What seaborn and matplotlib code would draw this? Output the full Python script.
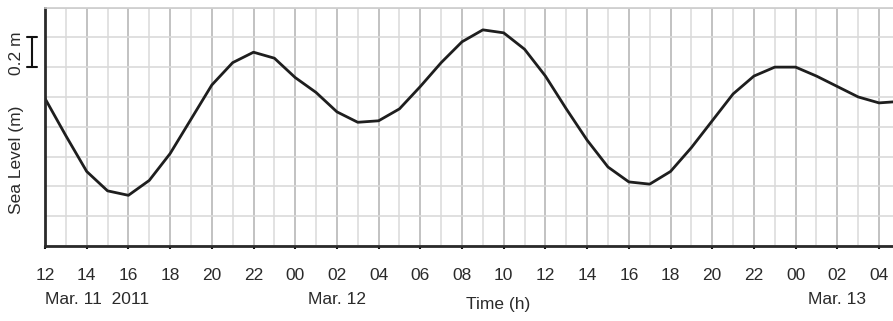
import numpy as np
import pandas as pd
import matplotlib
matplotlib.use("Agg")
import matplotlib.pyplot as plt
import matplotlib.transforms as mtransforms
from matplotlib.ticker import MultipleLocator
import seaborn as sns

# hours since 12:00 on Mar. 11 2011
hours = list(range(42))
sea_level = [0.99, 0.74, 0.50, 0.37, 0.34, 0.44, 0.62, 0.85, 1.08, 1.23, 1.30, 1.26, 1.13,
             1.03, 0.90, 0.83, 0.84, 0.92, 1.07, 1.23, 1.37, 1.45, 1.43, 1.32, 1.14, 0.92, 0.71,
             0.53, 0.43, 0.415, 0.50, 0.66, 0.84, 1.02, 1.14, 1.20, 1.20, 1.14, 1.07, 1.00, 0.96, 0.97]
tick_hours = list(range(0, 41, 2))
tick_labels = ['12', '14', '16', '18', '20', '22', '00', '02', '04', '06', '08',
               '10', '12', '14', '16', '18', '20', '22', '00', '02', '04']
date_labels = ['Mar. 11  2011', 'Mar. 12', 'Mar. 13']
date_hours = [0, 14, 38]

sns.set_theme(style="white")
plt.rcParams['font.family'] = ['Liberation Sans', 'DejaVu Sans']

df = pd.DataFrame({'hour': hours, 'level': sea_level})

W, H = 893, 321
fs = 12.5
fig = plt.figure(figsize=(W / 100, H / 100), dpi=100)
ax = fig.add_axes([45 / W, 75 / H, 848 / W, 238.5 / H])

# grid: hourly minor, 2-hourly major, horizontal every 0.2 m
ax.xaxis.set_major_locator(MultipleLocator(2))
ax.xaxis.set_minor_locator(MultipleLocator(1))
ax.yaxis.set_major_locator(MultipleLocator(0.2))
ax.grid(which='minor', axis='x', color='#dddddd', linewidth=1.2)
ax.grid(which='major', axis='x', color='#b8b8b8', linewidth=1.2)
ax.grid(which='major', axis='y', color='#dadada', linewidth=1.2)
ax.set_axisbelow(True)

sns.lineplot(data=df, x='hour', y='level', ax=ax, color='#1e1e1e', linewidth=2)

ax.set_xlim(0, 40.67)
ax.set_ylim(0, 1.6)
ax.set_xticks(tick_hours)
ax.set_xticklabels(tick_labels, fontsize=fs, color='#2a2a2a')
ax.set_yticklabels([])
ax.tick_params(axis='x', which='major', direction='out', length=2, width=1.5,
               color='#111111', pad=13.5, bottom=True)
ax.tick_params(axis='x', which='minor', length=0)
ax.tick_params(axis='y', length=0)
ax.set_xlabel('')
ax.set_ylabel('')

for s in ['left', 'bottom']:
    ax.spines[s].set_color('#2a2a2a')
    ax.spines[s].set_linewidth(2)
ax.spines['top'].set_color('#cccccc')
ax.spines['top'].set_linewidth(1.2)
ax.spines['right'].set_visible(False)

# date labels under the hour ticks
for lab, h in zip(date_labels, date_hours):
    ha = 'left' if h == 0 else 'center'
    ax.annotate(lab, xy=(h, 1 - 299 / H), xycoords=('data', 'figure fraction'),
                ha=ha, va='center', fontsize=fs, color='#2a2a2a')

fig.text(498 / W, 1 - 304 / H, 'Time (h)', ha='center', va='center',
         fontsize=fs, color='#2a2a2a')
fig.text(16.5 / W, 1 - 160 / H, 'Sea Level (m)', rotation=90, ha='center',
         va='center', fontsize=fs, color='#2a2a2a')
fig.text(16.5 / W, 1 - 53 / H, '0.2 m', rotation=90, ha='center', va='center',
         fontsize=fs, color='#2a2a2a')

# 0.2 m scale bar
trans = mtransforms.blended_transform_factory(fig.transFigure, ax.transData)
bx, cw = 31.7 / W, 5 / W
ax.plot([bx, bx], [1.2, 1.4], transform=trans, color='#111111', lw=1.5, clip_on=False)
ax.plot([bx - cw, bx + cw], [1.4, 1.4], transform=trans, color='#111111', lw=1.5, clip_on=False)
ax.plot([bx - cw, bx + cw], [1.2, 1.2], transform=trans, color='#111111', lw=1.5, clip_on=False)

fig.savefig('out.png', dpi=100)
